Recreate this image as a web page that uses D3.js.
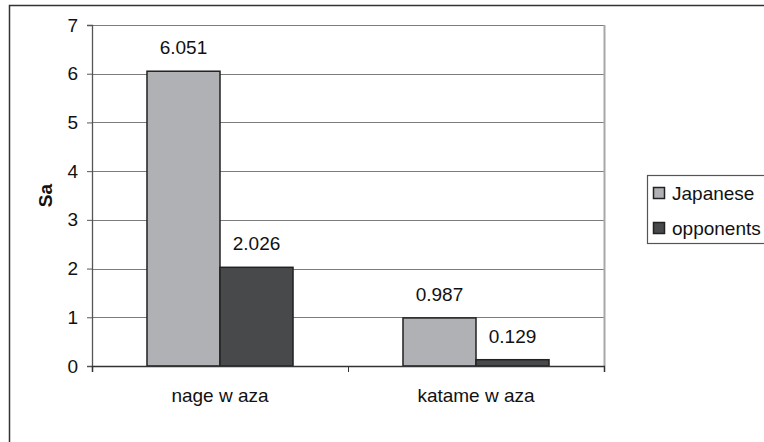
<!DOCTYPE html>
<html>
<head>
<meta charset="utf-8">
<script src="https://cdn.jsdelivr.net/npm/d3@7"></script>
<style>
  body { margin: 0; background: #fff; }
  text { font-family: "Liberation Sans", Arial, sans-serif; fill: #111; }
</style>
</head>
<body>
<div id="chart"></div>
<script>
// data
const categories = ["nage w aza", "katame w aza"];
const seriesNames = ["Japanese", "opponents"];
const japanese = [6.051, 0.987];
const opponents = [2.026, 0.129];
const yTicks = [0, 1, 2, 3, 4, 5, 6, 7];
const colors = ["#b0b1b5", "#48494b"];

const W = 764, H = 442;
const plot = { left: 92, right: 604, top: 25, bottom: 366 };
const fs = "19px";

const svg = d3.select("#chart").append("svg")
  .attr("width", W).attr("height", H);

// outer frame (runs off the right and bottom edge)
svg.append("rect")
  .attr("x", 9.5).attr("y", 5.5)
  .attr("width", W + 10).attr("height", H + 10)
  .attr("fill", "none").attr("stroke", "#333").attr("stroke-width", 1.5);

const x0 = d3.scaleBand().domain(categories)
  .range([plot.left, plot.right]).paddingInner(0).paddingOuter(0);
// two bars in the middle of each category, ~73px each
const x1 = d3.scaleBand().domain(seriesNames)
  .range([0, x0.bandwidth()]).paddingInner(0).paddingOuter(0.753);
const y = d3.scaleLinear().domain([0, 7]).range([plot.bottom, plot.top]);

// gridlines
svg.append("g").selectAll("line")
  .data(yTicks.filter(d => d > 0))
  .join("line")
  .attr("x1", plot.left).attr("x2", plot.right)
  .attr("y1", d => Math.round(y(d)) + 0.5).attr("y2", d => Math.round(y(d)) + 0.5)
  .attr("stroke", "#7c7c7c").attr("stroke-width", 1.2);

// right border of plot area
svg.append("line")
  .attr("x1", plot.right + 0.5).attr("x2", plot.right + 0.5)
  .attr("y1", plot.top).attr("y2", plot.bottom)
  .attr("stroke", "#a8a8a8").attr("stroke-width", 2);

// bars
const rows = categories.map((c, i) => ({ cat: c, values: [japanese[i], opponents[i]] }));
const groups = svg.append("g").selectAll("g")
  .data(rows).join("g")
  .attr("transform", d => `translate(${x0(d.cat)},0)`);

groups.selectAll("rect")
  .data(d => d.values.map((v, j) => ({ name: seriesNames[j], v, j })))
  .join("rect")
  .attr("x", d => x1(d.name))
  .attr("y", d => y(d.v))
  .attr("width", x1.bandwidth())
  .attr("height", d => y(0) - y(d.v))
  .attr("fill", d => colors[d.j])
  .attr("stroke", "#222").attr("stroke-width", 1.5);

groups.selectAll("text.val")
  .data(d => d.values.map((v, j) => ({ name: seriesNames[j], v, j })))
  .join("text").attr("class", "val")
  .attr("x", d => x1(d.name) + x1.bandwidth() / 2)
  .attr("y", d => y(d.v) - 17)
  .attr("text-anchor", "middle")
  .style("font-size", fs)
  .text(d => d3.format(".3f")(d.v));

// y axis
const yAxis = svg.append("g")
  .attr("transform", `translate(${plot.left},0)`)
  .call(d3.axisLeft(y).tickValues(yTicks).tickSize(5).tickPadding(9).tickFormat(d3.format("d")));
yAxis.select(".domain").attr("stroke", "#555").attr("stroke-width", 1.3);
yAxis.selectAll(".tick line").attr("stroke", "#555");
yAxis.selectAll("text").style("font-size", fs)
  .attr("font-family", null).attr("fill", "#111");

// x axis
const xAxis = svg.append("g")
  .attr("transform", `translate(0,${plot.bottom})`)
  .call(d3.axisBottom(d3.scaleLinear().domain([0, 2]).range([plot.left, plot.right]))
    .tickValues([0, 1, 2]).tickSize(6).tickFormat(""));
xAxis.select(".domain").attr("stroke", "#333").attr("stroke-width", 1.5);
xAxis.selectAll(".tick line").attr("stroke", "#333");

svg.append("g").selectAll("text")
  .data(categories).join("text")
  .attr("x", d => x0(d) + x0.bandwidth() / 2)
  .attr("y", 402)
  .attr("text-anchor", "middle")
  .style("font-size", fs)
  .text(d => d);

// y title
svg.append("text")
  .attr("transform", `translate(52,${(plot.top + plot.bottom) / 2}) rotate(-90)`)
  .attr("text-anchor", "middle")
  .style("font-size", fs).style("font-weight", "bold")
  .text("Sa");

// legend
const lg = svg.append("g").attr("transform", "translate(647,175)");
lg.append("rect")
  .attr("x", 0.5).attr("y", 0.5).attr("width", 140).attr("height", 68)
  .attr("fill", "#fff").attr("stroke", "#555").attr("stroke-width", 1.2);
const items = lg.selectAll("g.item").data(seriesNames).join("g")
  .attr("class", "item")
  .attr("transform", (d, i) => `translate(0,${12 + i * 35})`);
items.append("rect")
  .attr("x", 6.5).attr("y", 0.5).attr("width", 11).attr("height", 11)
  .attr("fill", (d, i) => colors[i]).attr("stroke", "#222").attr("stroke-width", 1.5);
items.append("text")
  .attr("x", 25).attr("y", 13)
  .style("font-size", fs)
  .text(d => d);
</script>
</body>
</html>
